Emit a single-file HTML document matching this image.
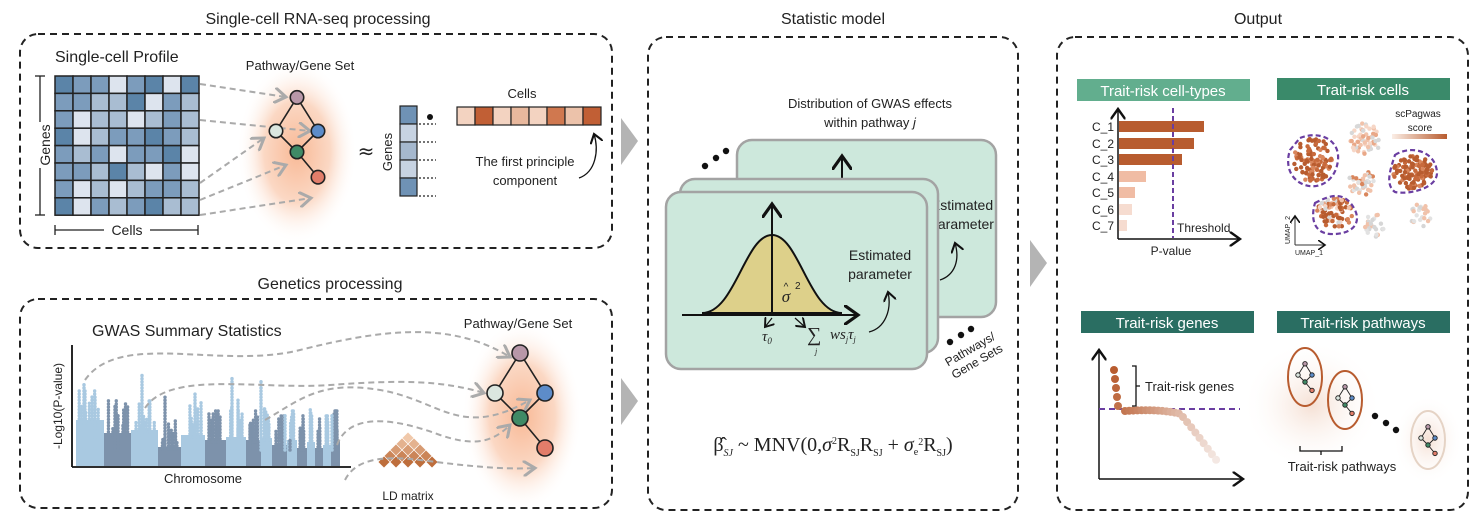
<!DOCTYPE html>
<html><head><meta charset="utf-8">
<style>
html,body{margin:0;padding:0;background:#fff}
svg{display:block}
text{font-family:"Liberation Sans",sans-serif;fill:#222}
text.serif{font-family:"Liberation Serif",serif}
</style></head><body>
<svg id="s" width="1484" height="526" viewBox="0 0 1484 526" xmlns="http://www.w3.org/2000/svg">
<defs>
<radialGradient id="glow" cx="50%" cy="50%" r="50%"><stop offset="0" stop-color="#f8b996"/><stop offset="0.55" stop-color="#fbd8c4"/><stop offset="1" stop-color="#fff" stop-opacity="0"/></radialGradient>
<radialGradient id="glow2" cx="50%" cy="50%" r="50%"><stop offset="0" stop-color="#f5e0d4"/><stop offset="1" stop-color="#fff" stop-opacity="0"/></radialGradient>
<linearGradient id="sc" x1="0" x2="1"><stop offset="0" stop-color="#fbeee6"/><stop offset="1" stop-color="#b85c2f"/></linearGradient>
<marker id="ga" markerWidth="8" markerHeight="8" refX="6" refY="4" orient="auto"><path d="M0,0 L6,4 L0,8" fill="none" stroke="#aaa" stroke-width="1.5"/></marker>
<marker id="ka" markerWidth="10" markerHeight="10" refX="7" refY="5" orient="auto"><path d="M0,0 L7,5 L0,10" fill="none" stroke="#111" stroke-width="1.6"/></marker>
</defs>

<text x="318" y="24" font-size="16" text-anchor="middle">Single-cell RNA-seq processing</text>
<text x="330" y="289" font-size="16" text-anchor="middle">Genetics processing</text>
<text x="833" y="24" font-size="16" text-anchor="middle">Statistic model</text>
<text x="1258" y="24" font-size="16" text-anchor="middle">Output</text>

<g fill="none" stroke="#222" stroke-width="2" stroke-dasharray="7,5">
<rect x="20" y="34" width="592" height="214" rx="18"/>
<rect x="20" y="299" width="592" height="209" rx="18"/>
<rect x="648" y="37" width="370" height="473" rx="18"/>
<rect x="1057" y="37" width="411" height="473" rx="18"/>
</g>
<g fill="#b4b4b4">
<polygon points="621,118 638,141 621,165"/>
<polygon points="621,378 638,401 621,425"/>
<polygon points="1030,240 1047,263 1030,287"/>
</g>

<!-- PANEL 1 -->
<text x="55" y="62" font-size="16">Single-cell Profile</text>
<g id="matrix"></g>
<g stroke="#222" stroke-width="1.3">
<line x1="40" y1="76" x2="40" y2="215"/><line x1="35" y1="76" x2="45" y2="76"/><line x1="35" y1="215" x2="45" y2="215"/>
<line x1="55" y1="230" x2="198" y2="230"/><line x1="55" y1="225" x2="55" y2="235"/><line x1="198" y1="225" x2="198" y2="235"/>
</g>
<rect x="30" y="122" width="20" height="46" fill="#fff"/>
<text x="45" y="145" font-size="14" text-anchor="middle" transform="rotate(-90 45 145)" dy="5">Genes</text>
<rect x="104" y="222" width="46" height="16" fill="#fff"/>
<text x="127" y="235" font-size="14" text-anchor="middle">Cells</text>

<ellipse cx="297" cy="152" rx="60" ry="92" fill="url(#glow)"/>
<text x="300" y="70" font-size="13" text-anchor="middle">Pathway/Gene Set</text>
<g fill="none" stroke="#aaa" stroke-width="2" stroke-dasharray="6,4" marker-end="url(#ga)">
<path d="M200,84 L286,97"/>
<path d="M200,120 L310,131"/>
<path d="M200,183 L264,138"/>
<path d="M200,200 L286,165"/>
<path d="M200,215 L311,198"/>
</g>
<g id="net1"></g>

<text x="366" y="158" font-size="20" text-anchor="middle" style="font-family:'DejaVu Sans',sans-serif">≈</text>
<text x="392" y="152" font-size="13" text-anchor="middle" transform="rotate(-90 392 152)">Genes</text>
<g stroke="#222" stroke-width="1.2">
<rect x="400" y="106" width="17" height="18" fill="#6f92b5"/>
<rect x="400" y="124" width="17" height="18" fill="#c7d3e2"/>
<rect x="400" y="142" width="17" height="18" fill="#a5b8ce"/>
<rect x="400" y="160" width="17" height="18" fill="#c7d3e2"/>
<rect x="400" y="178" width="17" height="18" fill="#6f92b5"/>
</g>
<g stroke="#222" stroke-width="1.2" stroke-dasharray="2,2">
<line x1="419" y1="124" x2="436" y2="124"/><line x1="419" y1="142" x2="436" y2="142"/><line x1="419" y1="160" x2="436" y2="160"/><line x1="419" y1="178" x2="436" y2="178"/><line x1="419" y1="196" x2="436" y2="196"/>
</g>
<circle cx="430" cy="117" r="3" fill="#111"/>
<text x="522" y="98" font-size="13" text-anchor="middle">Cells</text>
<g stroke="#222" stroke-width="1.2">
<rect x="457" y="107" width="18" height="18" fill="#f3d3c1"/>
<rect x="475" y="107" width="18" height="18" fill="#c15f35"/>
<rect x="493" y="107" width="18" height="18" fill="#f3d3c1"/>
<rect x="511" y="107" width="18" height="18" fill="#e8b89d"/>
<rect x="529" y="107" width="18" height="18" fill="#f3d3c1"/>
<rect x="547" y="107" width="18" height="18" fill="#d0784f"/>
<rect x="565" y="107" width="18" height="18" fill="#ecc2aa"/>
<rect x="583" y="107" width="18" height="18" fill="#c15f35"/>
</g>
<text x="525" y="166" font-size="13" text-anchor="middle">The first principle</text>
<text x="525" y="185" font-size="13" text-anchor="middle">component</text>
<path d="M579,178 C596,172 599,150 594,134" fill="none" stroke="#111" stroke-width="1.3" marker-end="url(#ka)"/>

<!-- PANEL 2 -->
<text x="92" y="336" font-size="16">GWAS Summary Statistics</text>
<g id="man"></g>
<line x1="72" y1="345" x2="72" y2="467" stroke="#111" stroke-width="1.8"/>
<line x1="72" y1="467" x2="351" y2="467" stroke="#111" stroke-width="1.8"/>
<text x="62" y="406" font-size="12" text-anchor="middle" transform="rotate(-90 62 406)">-Log10(P-value)</text>
<text x="203" y="483" font-size="13" text-anchor="middle">Chromosome</text>
<g id="ld"></g>
<text x="408" y="500" font-size="12" text-anchor="middle">LD matrix</text>
<ellipse cx="522" cy="416" rx="60" ry="95" fill="url(#glow)"/>
<text x="518" y="328" font-size="13" text-anchor="middle">Pathway/Gene Set</text>
<g fill="none" stroke="#aaa" stroke-width="2" stroke-dasharray="6,4" marker-end="url(#ga)">
<path d="M85,380 C120,330 220,370 300,350 C380,330 450,320 510,357"/>
<path d="M145,408 C170,370 260,390 330,385 C400,380 440,380 484,393"/>
<path d="M265,420 C300,400 320,380 380,390 C440,400 460,440 530,400"/>
<path d="M337,445 C350,410 400,420 440,435 C470,445 490,445 510,425"/>
<path d="M345,480 C355,460 380,455 420,460 C460,465 500,470 535,468"/>
</g>
<g id="net2"></g>

<!-- PANEL 3 -->
<text x="870" y="108" font-size="13" text-anchor="middle">Distribution of GWAS effects</text>
<text x="870" y="127" font-size="13" text-anchor="middle">within pathway <tspan font-style="italic">j</tspan></text>
<circle cx="705" cy="166" r="3.2" fill="#111"/><circle cx="716" cy="158" r="3.2" fill="#111"/><circle cx="726" cy="151" r="3.2" fill="#111"/>
<rect x="737" y="140" width="259" height="177" rx="15" fill="#cde8dc" stroke="#a3a3a3" stroke-width="2.5"/>
<line x1="842" y1="178" x2="842" y2="156" stroke="#111" stroke-width="2" marker-end="url(#ka)"/>
<text x="962" y="210" font-size="14" text-anchor="middle">Estimated</text>
<text x="962" y="229" font-size="14" text-anchor="middle">parameter</text>
<path d="M940,280 C955,275 960,260 955,243" fill="none" stroke="#111" stroke-width="1.3" marker-end="url(#ka)"/>
<rect x="680" y="179" width="258" height="174" rx="15" fill="#cde8dc" stroke="#a3a3a3" stroke-width="2.5"/>
<rect x="666" y="192" width="261" height="177" rx="15" fill="#cde8dc" stroke="#a3a3a3" stroke-width="2.5"/>
<path d="M702,313 C735,313 745,235 772,235 C799,235 809,313 842,313 Z" fill="#ddd08a" stroke="#111" stroke-width="2"/>
<line x1="772" y1="315" x2="772" y2="204" stroke="#111" stroke-width="2" marker-end="url(#ka)"/>
<line x1="682" y1="315" x2="858" y2="315" stroke="#111" stroke-width="2" marker-end="url(#ka)"/>
<line x1="772" y1="318" x2="765" y2="327" stroke="#111" stroke-width="1.2" marker-end="url(#ka)"/>
<line x1="795" y1="318" x2="805" y2="327" stroke="#111" stroke-width="1.2" marker-end="url(#ka)"/>
<text class="serif" x="786" y="302" font-size="17" font-style="italic" text-anchor="middle">σ</text>
<text x="786" y="290" font-size="10" text-anchor="middle">^</text>
<text x="795" y="289" font-size="10">2</text>
<text class="serif" x="762" y="341" font-size="15" font-style="italic">τ<tspan font-size="9" dy="3">0</tspan></text>
<text class="serif" x="807" y="341" font-size="20">∑</text>
<text class="serif" x="815" y="354" font-size="8" font-style="italic">j</text>
<text class="serif" x="830" y="339" font-size="15" font-style="italic">ws<tspan font-size="8" dy="3">j</tspan><tspan dy="-3">τ</tspan><tspan font-size="8" dy="3">j</tspan></text>
<text x="880" y="260" font-size="14" text-anchor="middle">Estimated</text>
<text x="880" y="279" font-size="14" text-anchor="middle">parameter</text>
<path d="M869,332 C885,328 892,310 888,292" fill="none" stroke="#111" stroke-width="1.3" marker-end="url(#ka)"/>
<circle cx="950" cy="342" r="3.2" fill="#111"/><circle cx="961" cy="335" r="3.2" fill="#111"/><circle cx="971" cy="329" r="3.2" fill="#111"/>
<g transform="rotate(-30 975 358)"><text x="975" y="352" font-size="12" text-anchor="middle">Pathways/</text><text x="975" y="366" font-size="12" text-anchor="middle">Gene Sets</text></g>
<text class="serif" x="833" y="451" font-size="20" text-anchor="middle">β̂<tspan font-size="10" dy="5" font-style="italic">SJ</tspan><tspan dy="-5"> ~ MNV(0,</tspan><tspan font-style="italic">σ</tspan><tspan font-size="10" dy="-7">2</tspan><tspan dy="7">R</tspan><tspan font-size="10" dy="5">SJ</tspan><tspan dy="-5">R</tspan><tspan font-size="10" dy="5">SJ</tspan><tspan dy="-5"> + </tspan><tspan font-style="italic">σ</tspan><tspan font-size="10" dy="4">e</tspan><tspan font-size="10" dy="-10">2</tspan><tspan dy="6">R</tspan><tspan font-size="10" dy="5">SJ</tspan><tspan dy="-5">)</tspan></text>

<!-- PANEL 4 -->
<rect x="1077" y="79" width="173" height="22" fill="#62ae8e"/>
<text x="1163" y="96" font-size="15" text-anchor="middle" style="fill:#fff">Trait-risk cell-types</text>
<rect x="1277" y="78" width="173" height="22" fill="#3a8a6a"/>
<text x="1363" y="95" font-size="15" text-anchor="middle" style="fill:#fff">Trait-risk cells</text>
<rect x="1081" y="311" width="173" height="22" fill="#2a6e62"/>
<text x="1167" y="328" font-size="15" text-anchor="middle" style="fill:#fff">Trait-risk genes</text>
<rect x="1277" y="311" width="173" height="22" fill="#2a6e62"/>
<text x="1363" y="328" font-size="15" text-anchor="middle" style="fill:#fff">Trait-risk pathways</text>

<g>
<rect x="1119" y="121" width="85" height="11" fill="#b85c2f"/>
<rect x="1119" y="138" width="75" height="11" fill="#b85c2f"/>
<rect x="1119" y="154" width="63" height="11" fill="#b85c2f"/>
<rect x="1119" y="171" width="27" height="11" fill="#f0bca4"/>
<rect x="1119" y="187" width="16" height="11" fill="#f0bca4"/>
<rect x="1119" y="204" width="13" height="11" fill="#f6dcd0"/>
<rect x="1119" y="220" width="8" height="11" fill="#f6dcd0"/>
</g>
<g font-size="12">
<text x="1092" y="131">C_1</text><text x="1092" y="148">C_2</text><text x="1092" y="164">C_3</text><text x="1092" y="181">C_4</text><text x="1092" y="197">C_5</text><text x="1092" y="214">C_6</text><text x="1092" y="230">C_7</text>
</g>
<line x1="1173" y1="108" x2="1173" y2="238" stroke="#6a3ea1" stroke-width="2" stroke-dasharray="5,3"/>
<line x1="1118" y1="239" x2="1118" y2="109" stroke="#111" stroke-width="1.5" marker-end="url(#ka)"/>
<line x1="1118" y1="239" x2="1240" y2="239" stroke="#111" stroke-width="1.5" marker-end="url(#ka)"/>
<text x="1177" y="232" font-size="12">Threshold</text>
<text x="1171" y="255" font-size="12" text-anchor="middle">P-value</text>

<g id="umap"></g>
<g fill="none" stroke="#6a3ea1" stroke-width="2.2" stroke-dasharray="5,3">
<path d="M1300,138 C1320,130 1340,140 1338,160 C1336,180 1320,190 1305,185 C1290,180 1285,165 1290,150 Z"/>
<path d="M1395,155 C1410,145 1435,150 1437,172 C1438,188 1410,195 1395,192 C1385,185 1390,170 1395,155 Z"/>
<path d="M1315,203 C1330,195 1345,190 1355,210 C1362,225 1350,235 1330,234 C1315,233 1310,220 1315,203 Z"/>
</g>
<text x="1418" y="117" font-size="10" text-anchor="middle">scPagwas</text>
<text x="1420" y="131" font-size="10" text-anchor="middle">score</text>
<rect x="1392" y="134" width="55" height="5" fill="url(#sc)"/>
<line x1="1295" y1="245" x2="1295" y2="216" stroke="#333" stroke-width="1" marker-end="url(#ka)"/>
<line x1="1295" y1="245" x2="1325" y2="245" stroke="#333" stroke-width="1" marker-end="url(#ka)"/>
<text x="1290" y="244" font-size="7" transform="rotate(-90 1290 244)">UMAP_2</text>
<text x="1295" y="255" font-size="7">UMAP_1</text>

<line x1="1099" y1="479" x2="1099" y2="350" stroke="#111" stroke-width="1.5" marker-end="url(#ka)"/>
<line x1="1099" y1="479" x2="1243" y2="479" stroke="#111" stroke-width="1.5" marker-end="url(#ka)"/>
<line x1="1099" y1="409" x2="1240" y2="409" stroke="#6a3ea1" stroke-width="2" stroke-dasharray="6,4"/>
<g id="gd"></g>
<path d="M1132,366 L1136,366 L1136,406 L1132,406 M1136,386 L1140,386" fill="none" stroke="#111" stroke-width="1.3"/>
<text x="1145" y="391" font-size="13">Trait-risk genes</text>

<ellipse cx="1312" cy="405" rx="70" ry="65" fill="url(#glow2)"/>
<ellipse cx="1428" cy="440" rx="35" ry="45" fill="url(#glow2)"/>
<ellipse cx="1305" cy="377" rx="17" ry="29" fill="none" stroke="#b85c2f" stroke-width="2"/>
<ellipse cx="1345" cy="400" rx="17" ry="29" fill="none" stroke="#b85c2f" stroke-width="2"/>
<ellipse cx="1428" cy="440" rx="17" ry="29" fill="none" stroke="#e5d3c5" stroke-width="2"/>
<g id="mini"></g>
<circle cx="1375" cy="416" r="3.2" fill="#111"/><circle cx="1386" cy="423" r="3.2" fill="#111"/><circle cx="1396" cy="430" r="3.2" fill="#111"/>
<path d="M1300,446 L1300,451 L1342,451 L1342,446 M1321,451 L1321,455" fill="none" stroke="#111" stroke-width="1.3"/>
<text x="1342" y="471" font-size="13" text-anchor="middle">Trait-risk pathways</text>
</svg>
<script>
var NS="http://www.w3.org/2000/svg";
function el(p,t,a){var e=document.createElementNS(NS,t);for(var k in a)e.setAttribute(k,a[k]);document.getElementById(p).appendChild(e);return e;}
var pal=["#5b84a8","#7c9cbc","#a9bdd2","#dde4ee"];
var M=["01131030","11220312","13223212","03211012","12131103","11202313","13232112","03121022"];
for(var r=0;r<8;r++)for(var c=0;c<8;c++){el("matrix","rect",{x:55+c*18,y:76+r*17.4,width:18,height:17.4,fill:pal[+M[r][c]],stroke:"#222","stroke-width":1.5});}
function net(g,cx,cy,s,w){var n=[[0,-1.6],[-1,0],[1,0],[0,1],[1,2.2]];var cols=["#b897a8","#dbe6df","#5d8cc9","#3f8a66","#e27d6a"];
var ed=[[0,1],[0,2],[1,3],[2,3],[3,4]];
ed.forEach(function(e){el(g,"line",{x1:cx+n[e[0]][0]*s,y1:cy+n[e[0]][1]*s,x2:cx+n[e[1]][0]*s,y2:cy+n[e[1]][1]*s,stroke:"#222","stroke-width":w});});
n.forEach(function(p,i){el(g,"circle",{cx:cx+p[0]*s,cy:cy+p[1]*s,r:s*0.32,fill:cols[i],stroke:"#222","stroke-width":w});});}
net("net1",297,131,21,1.6);
net("net2",520,393,25,1.6);
net("mini",1305,375,7,0.9);net("mini",1345,398,7,0.9);net("mini",1428,438,7,0.9);
var ch=[[76,104,420,1],[104,131,433,0],[131,158,430,1],[158,181,447,0],[181,205,435,1],[205,226,440,0],[226,246,437,1],[246,261,440,0],[261,272,438,1],[272,287,445,0],[287,297,440,1],[297,307,448,0],[307,315,442,1],[315,323,448,0],[323,331,445,1],[331,340,440,0]];
var LB="#a9c9e1",DB="#7d92ab";
ch.forEach(function(c){el("man","rect",{x:c[0],y:c[2],width:c[1]-c[0],height:466-c[2],fill:c[3]?LB:DB});
for(var i=0;i<9;i++){var x=c[0]+3+Math.random()*(c[1]-c[0]-6);var h=c[2]-5-Math.random()*28;el("man","line",{x1:x,y1:c[2]+2,x2:x,y2:h,stroke:c[3]?LB:DB,"stroke-width":3.4,"stroke-linecap":"round","stroke-dasharray":"0.1,3"});}});
[[84,383,LB],[95,395,LB],[115,405,DB],[118,413,DB],[142,373,LB],[165,395,DB],[195,393,LB],[232,377,LB],[238,400,LB],[261,380,LB],[250,425,DB],[285,415,LB],[290,440,DB],[332,415,LB],[337,430,DB]].forEach(function(s){
el("man","line",{x1:s[0],y1:450,x2:s[0],y2:s[1],stroke:s[2],"stroke-width":3.5,"stroke-linecap":"round","stroke-dasharray":"0.1,3"});});
for(var r=0;r<5;r++)for(var i=0;i<=r;i++){var cx=408-r*6+i*12,cy=438+r*6;var t=r/4;var col="rgb("+Math.round(240-50*t)+","+Math.round(200-90*t)+","+Math.round(170-110*t)+")";
el("ld","polygon",{points:(cx)+","+(cy-6)+" "+(cx+6)+","+cy+" "+cx+","+(cy+6)+" "+(cx-6)+","+cy,fill:col,stroke:"#fff","stroke-width":0.6});}
function cl(cx,cy,rx,ry,n,cols){for(var i=0;i<n;i++){var a=Math.random()*6.283,d=Math.sqrt(Math.random());el("umap","circle",{cx:cx+Math.cos(a)*rx*d,cy:cy+Math.sin(a)*ry*d,r:2.2,fill:cols[Math.floor(Math.random()*cols.length)]});}}
var D=["#b85c2f","#c86a3c","#d9865c","#b85c2f"],P=["#f1c2aa","#f6d6c6","#e9a888","#d8d8d8"],G=["#d6d6d6","#e2e2e2","#f1c2aa"];
cl(1313,160,20,22,110,D);cl(1413,172,20,17,110,D);cl(1335,213,18,15,80,D.concat(P));
cl(1365,140,15,17,55,P);cl(1362,183,14,12,40,G.concat(["#d9865c"]));cl(1375,225,10,12,25,G);cl(1420,215,11,12,25,G.concat(["#f1c2aa"]));
var pts=[];for(var i=0;i<5;i++)pts.push([1114+i*1,370+i*9]);
for(var t=0;t<=1.0001;t+=0.045){var x=1125+t*92;var y=411+14*t-6*Math.sin(t*3.14)+(t>0.6?(t-0.6)*90:0);pts.push([x,y]);}
pts.forEach(function(p,i){var f=i/(pts.length-1);var col="rgb("+Math.round(184+60*f)+","+Math.round(92+140*f)+","+Math.round(47+180*f)+")";el("gd","circle",{cx:p[0],cy:p[1],r:4,fill:col});});
</script>
</body></html>
